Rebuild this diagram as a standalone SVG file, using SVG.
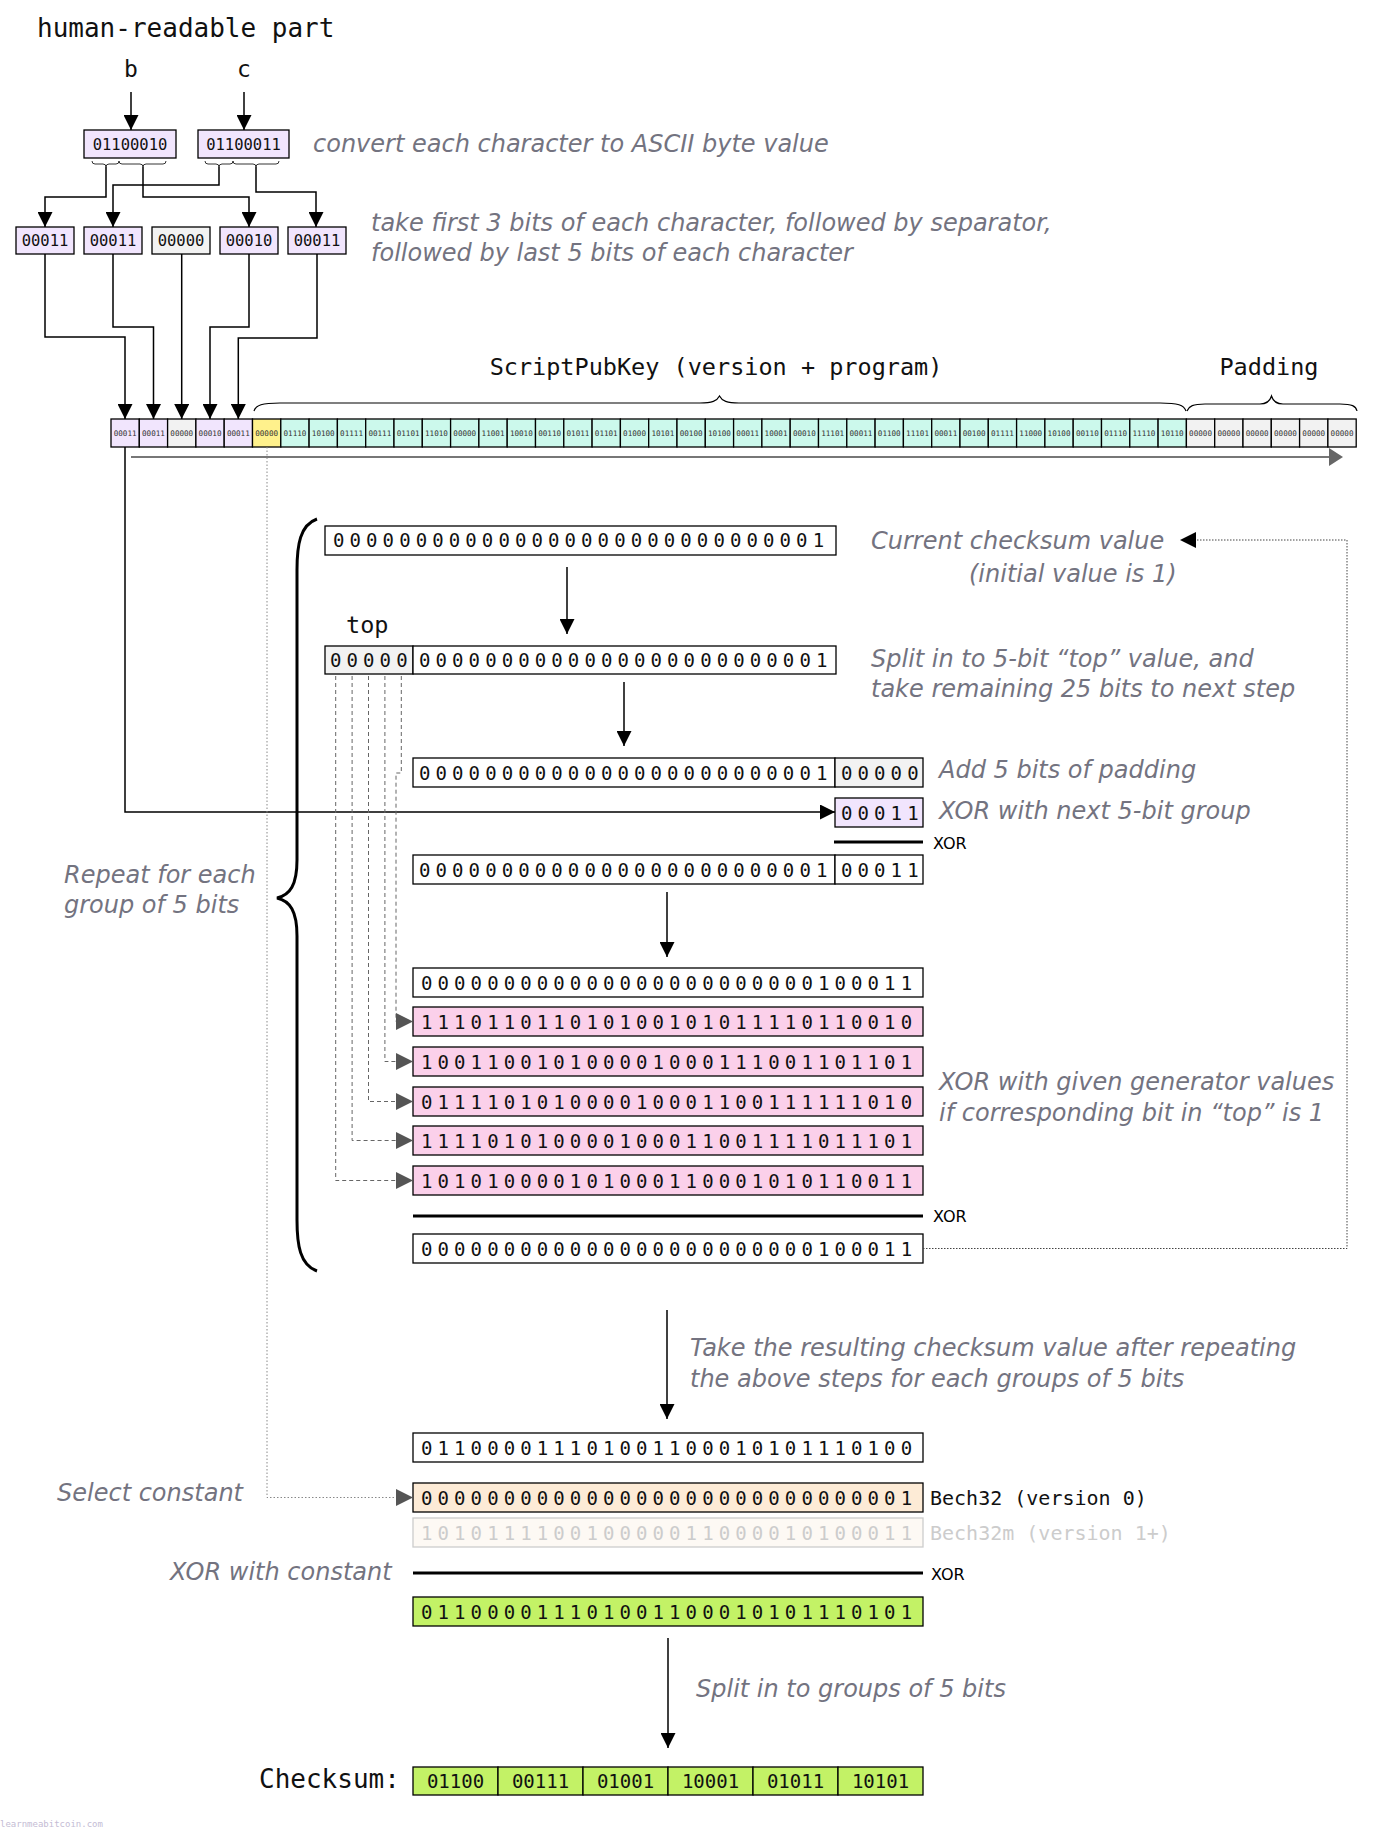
<svg xmlns="http://www.w3.org/2000/svg" width="1383" height="1829" viewBox="0 0 1383 1829">
<style>
.mono{font-family:"DejaVu Sans Mono","Liberation Mono",monospace;fill:#111}
.lbl{font-family:"DejaVu Sans","Liberation Sans",sans-serif;font-style:italic;font-size:24px;fill:#737380}
.xor{font-family:"DejaVu Sans","Liberation Sans",sans-serif;font-size:16px;fill:#000}
.box{stroke:#000;stroke-width:1.3;fill:#fff}
.lav{fill:#f1e5fd}.gry{fill:#f2f2f2}.yel{fill:#fff18c}.mint{fill:#ccf9ec}.pink{fill:#fbd0ea}.peach{fill:#fdebd6}.green{fill:#c3f266}
.bits{font-family:"DejaVu Sans Mono","Liberation Mono",monospace;font-size:19px;letter-spacing:5.1px;fill:#111}
.cell{font-family:"DejaVu Sans Mono","Liberation Mono",monospace;font-size:7.6px;fill:#333;text-anchor:middle}
.ln{stroke:#000;stroke-width:1.5;fill:none}
.dash{stroke:#666;stroke-width:1;stroke-dasharray:4,3;fill:none}
.dot{stroke:#444;stroke-width:1;stroke-dasharray:1.5,1.5;fill:none}
.thick{stroke:#000;stroke-width:3}
</style>
<defs>
<marker id="arr" markerUnits="userSpaceOnUse" markerWidth="15" markerHeight="15" refX="15" refY="7.5" orient="auto"><path d="M0,0L15,7.5L0,15z" fill="#000"/></marker>
</defs>

<g id="title"><text class="mono" x="37" y="37" font-size="26">human-readable part</text></g>
<g id="char-b"><text class="mono" x="131" y="77" font-size="23" text-anchor="middle">b</text></g>
<g id="char-c"><text class="mono" x="244" y="77" font-size="23" text-anchor="middle">c</text></g>

<g id="ascii-b"><rect class="box lav" x="84" y="130" width="92" height="28"/><text class="mono" x="130" y="150" font-size="15.5" text-anchor="middle">01100010</text>
<path d="M92,161q0,3 3,3H103q3,0 3,3q0,-3 3,-3H116q3,0 3,-3M119,161q0,3 3,3H140q3,0 3,3q0,-3 3,-3H163q3,0 3,-3" fill="none" stroke="#000" stroke-width="0.8"/></g>
<g id="ascii-c"><rect class="box lav" x="198" y="130" width="91" height="28"/><text class="mono" x="243.5" y="150" font-size="15.5" text-anchor="middle">01100011</text>
<path d="M205,161q0,3 3,3H216q3,0 3,3q0,-3 3,-3H230q3,0 3,-3M233,161q0,3 3,3H253q3,0 3,3q0,-3 3,-3H276q3,0 3,-3" fill="none" stroke="#000" stroke-width="0.8"/></g>
<text class="lbl" x="313" y="152">convert each character to ASCII byte value</text>

<g id="g5-1"><rect class="box lav" x="16" y="227" width="58" height="27"/><text class="mono" x="45" y="246" font-size="15.5" text-anchor="middle">00011</text></g>
<g id="g5-2"><rect class="box lav" x="84" y="227" width="58" height="27"/><text class="mono" x="113" y="246" font-size="15.5" text-anchor="middle">00011</text></g>
<g id="g5-3"><rect class="box gry" x="152" y="227" width="58" height="27"/><text class="mono" x="181" y="246" font-size="15.5" text-anchor="middle">00000</text></g>
<g id="g5-4"><rect class="box lav" x="220" y="227" width="58" height="27"/><text class="mono" x="249" y="246" font-size="15.5" text-anchor="middle">00010</text></g>
<g id="g5-5"><rect class="box lav" x="288" y="227" width="58" height="27"/><text class="mono" x="317" y="246" font-size="15.5" text-anchor="middle">00011</text></g>
<text class="lbl" x="371" y="231">take first 3 bits of each character, followed by separator,</text>
<text class="lbl" x="371" y="261">followed by last 5 bits of each character</text>

<g id="labels-top">
<text class="mono" x="716" y="375" font-size="23.5" text-anchor="middle">ScriptPubKey (version + program)</text>
<text class="mono" x="1269" y="375" font-size="23.5" text-anchor="middle">Padding</text>
<path d="M254,411C256,405 262,403 280,403H700C712,403 717,401 719.5,396C722,401 727,403 739,403H1160C1178,403 1184,405 1186,411" fill="none" stroke="#000" stroke-width="1.2"/>
<path d="M1187,411C1189,406 1193,404 1205,404H1260C1267,404 1270,401 1271.5,396C1273,401 1276,404 1283,404H1340C1352,404 1356,406 1357,411" fill="none" stroke="#000" stroke-width="1.2"/>
</g>

<g id="data-row">
<rect class="box lav" x="111" y="419" width="28.3" height="28"/><text class="cell" x="125.15" y="436">00011</text>
<rect class="box lav" x="139.3" y="419" width="28.3" height="28"/><text class="cell" x="153.45" y="436">00011</text>
<rect class="box gry" x="167.6" y="419" width="28.3" height="28"/><text class="cell" x="181.75" y="436">00000</text>
<rect class="box lav" x="195.9" y="419" width="28.3" height="28"/><text class="cell" x="210.05" y="436">00010</text>
<rect class="box lav" x="224.2" y="419" width="28.3" height="28"/><text class="cell" x="238.35" y="436">00011</text>
<rect class="box yel" x="252.5" y="419" width="28.3" height="28"/><text class="cell" x="266.65" y="436">00000</text>
<rect class="box mint" x="280.8" y="419" width="28.3" height="28"/><text class="cell" x="294.95" y="436">01110</text>
<rect class="box mint" x="309.1" y="419" width="28.3" height="28"/><text class="cell" x="323.25" y="436">10100</text>
<rect class="box mint" x="337.4" y="419" width="28.3" height="28"/><text class="cell" x="351.55" y="436">01111</text>
<rect class="box mint" x="365.7" y="419" width="28.3" height="28"/><text class="cell" x="379.85" y="436">00111</text>
<rect class="box mint" x="394" y="419" width="28.3" height="28"/><text class="cell" x="408.15" y="436">01101</text>
<rect class="box mint" x="422.3" y="419" width="28.3" height="28"/><text class="cell" x="436.45" y="436">11010</text>
<rect class="box mint" x="450.6" y="419" width="28.3" height="28"/><text class="cell" x="464.75" y="436">00000</text>
<rect class="box mint" x="478.9" y="419" width="28.3" height="28"/><text class="cell" x="493.05" y="436">11001</text>
<rect class="box mint" x="507.2" y="419" width="28.3" height="28"/><text class="cell" x="521.35" y="436">10010</text>
<rect class="box mint" x="535.5" y="419" width="28.3" height="28"/><text class="cell" x="549.65" y="436">00110</text>
<rect class="box mint" x="563.8" y="419" width="28.3" height="28"/><text class="cell" x="577.95" y="436">01011</text>
<rect class="box mint" x="592.1" y="419" width="28.3" height="28"/><text class="cell" x="606.25" y="436">01101</text>
<rect class="box mint" x="620.4" y="419" width="28.3" height="28"/><text class="cell" x="634.55" y="436">01000</text>
<rect class="box mint" x="648.7" y="419" width="28.3" height="28"/><text class="cell" x="662.85" y="436">10101</text>
<rect class="box mint" x="677" y="419" width="28.3" height="28"/><text class="cell" x="691.15" y="436">00100</text>
<rect class="box mint" x="705.3" y="419" width="28.3" height="28"/><text class="cell" x="719.45" y="436">10100</text>
<rect class="box mint" x="733.6" y="419" width="28.3" height="28"/><text class="cell" x="747.75" y="436">00011</text>
<rect class="box mint" x="761.9" y="419" width="28.3" height="28"/><text class="cell" x="776.05" y="436">10001</text>
<rect class="box mint" x="790.2" y="419" width="28.3" height="28"/><text class="cell" x="804.35" y="436">00010</text>
<rect class="box mint" x="818.5" y="419" width="28.3" height="28"/><text class="cell" x="832.65" y="436">11101</text>
<rect class="box mint" x="846.8" y="419" width="28.3" height="28"/><text class="cell" x="860.95" y="436">00011</text>
<rect class="box mint" x="875.1" y="419" width="28.3" height="28"/><text class="cell" x="889.25" y="436">01100</text>
<rect class="box mint" x="903.4" y="419" width="28.3" height="28"/><text class="cell" x="917.55" y="436">11101</text>
<rect class="box mint" x="931.7" y="419" width="28.3" height="28"/><text class="cell" x="945.85" y="436">00011</text>
<rect class="box mint" x="960" y="419" width="28.3" height="28"/><text class="cell" x="974.15" y="436">00100</text>
<rect class="box mint" x="988.3" y="419" width="28.3" height="28"/><text class="cell" x="1002.45" y="436">01111</text>
<rect class="box mint" x="1016.6" y="419" width="28.3" height="28"/><text class="cell" x="1030.75" y="436">11000</text>
<rect class="box mint" x="1044.9" y="419" width="28.3" height="28"/><text class="cell" x="1059.05" y="436">10100</text>
<rect class="box mint" x="1073.2" y="419" width="28.3" height="28"/><text class="cell" x="1087.35" y="436">00110</text>
<rect class="box mint" x="1101.5" y="419" width="28.3" height="28"/><text class="cell" x="1115.65" y="436">01110</text>
<rect class="box mint" x="1129.8" y="419" width="28.3" height="28"/><text class="cell" x="1143.95" y="436">11110</text>
<rect class="box mint" x="1158.1" y="419" width="28.3" height="28"/><text class="cell" x="1172.25" y="436">10110</text>
<rect class="box gry" x="1186.4" y="419" width="28.3" height="28"/><text class="cell" x="1200.55" y="436">00000</text>
<rect class="box gry" x="1214.7" y="419" width="28.3" height="28"/><text class="cell" x="1228.85" y="436">00000</text>
<rect class="box gry" x="1243" y="419" width="28.3" height="28"/><text class="cell" x="1257.15" y="436">00000</text>
<rect class="box gry" x="1271.3" y="419" width="28.3" height="28"/><text class="cell" x="1285.45" y="436">00000</text>
<rect class="box gry" x="1299.6" y="419" width="28.3" height="28"/><text class="cell" x="1313.75" y="436">00000</text>
<rect class="box gry" x="1327.9" y="419" width="28.3" height="28"/><text class="cell" x="1342.05" y="436">00000</text>
</g>

<g id="checksum-current"><rect class="box" x="325" y="526" width="511" height="29"/><text class="bits" x="333" y="547">000000000000000000000000000001</text></g>
<text class="lbl" x="871" y="549">Current checksum value</text>
<text class="lbl" x="969" y="582">(initial value is 1)</text>

<text class="mono" x="346" y="633" font-size="23.5">top</text>
<g id="checksum-split"><rect class="box gry" x="325" y="646" width="88" height="28"/><rect class="box" x="413" y="646" width="423" height="28"/><text class="bits" x="330" y="667">00000</text><text class="bits" x="419" y="667">0000000000000000000000001</text></g>
<text class="lbl" x="871" y="667">Split in to 5-bit “top” value, and</text>
<text class="lbl" x="871" y="697">take remaining 25 bits to next step</text>

<g id="padded"><rect class="box" x="413" y="758" width="422" height="29"/><rect class="box gry" x="835" y="758" width="88" height="29"/><text class="bits" x="419" y="780">0000000000000000000000001</text><text class="bits" x="841" y="780">00000</text></g>
<text class="lbl" x="939" y="778">Add 5 bits of padding</text>
<g id="next-group"><rect class="box lav" x="835" y="798" width="88" height="29"/><text class="bits" x="841" y="820">00011</text></g>
<text class="lbl" x="939" y="819">XOR with next 5-bit group</text>
<g id="xor1"><line class="thick" x1="834" y1="842" x2="923" y2="842"/><text class="xor" x="933" y="849">XOR</text></g>
<g id="after-xor"><rect class="box" x="413" y="855" width="422" height="29"/><rect class="box" x="835" y="855" width="88" height="29"/><text class="bits" x="419" y="877">0000000000000000000000001</text><text class="bits" x="841" y="877">00011</text></g>

<g id="shifted"><rect class="box" x="413" y="968" width="510" height="29"/><text class="bits" x="421" y="990">000000000000000000000000100011</text></g>
<g id="gen1"><rect class="box pink" x="413" y="1007" width="510" height="29"/><text class="bits" x="421" y="1029">111011011010100101011110110010</text></g>
<g id="gen2"><rect class="box pink" x="413" y="1047" width="510" height="29"/><text class="bits" x="421" y="1069">100110010100001000111001101101</text></g>
<g id="gen3"><rect class="box pink" x="413" y="1087" width="510" height="29"/><text class="bits" x="421" y="1109">011110101000010001100111111010</text></g>
<g id="gen4"><rect class="box pink" x="413" y="1126" width="510" height="29"/><text class="bits" x="421" y="1148">111101010000100011001111011101</text></g>
<g id="gen5"><rect class="box pink" x="413" y="1166" width="510" height="29"/><text class="bits" x="421" y="1188">101010000101000110001010110011</text></g>
<text class="lbl" x="939" y="1090">XOR with given generator values</text>
<text class="lbl" x="939" y="1121">if corresponding bit in “top” is 1</text>
<g id="xor2"><line class="thick" x1="413" y1="1216" x2="923" y2="1216"/><text class="xor" x="933" y="1222">XOR</text></g>
<g id="new-checksum"><rect class="box" x="413" y="1234" width="510" height="29"/><text class="bits" x="421" y="1256">000000000000000000000000100011</text></g>

<g id="repeat-brace"><path d="M317,519C300,525 297,545 297,570V860C297,885 290,895 277,898C290,901 297,911 297,936V1220C297,1245 300,1265 317,1271" fill="none" stroke="#000" stroke-width="3"/>
<text class="lbl" x="64" y="883">Repeat for each</text><text class="lbl" x="64" y="913">group of 5 bits</text></g>

<text class="lbl" x="690" y="1356">Take the resulting checksum value after repeating</text>
<text class="lbl" x="690" y="1387">the above steps for each groups of 5 bits</text>
<g id="result"><rect class="box" x="413" y="1433" width="510" height="29"/><text class="bits" x="421" y="1455">011000011101001100010101110100</text></g>
<text class="lbl" x="57" y="1501">Select constant</text>
<g id="bech32"><rect class="box peach" x="413" y="1483" width="510" height="29"/><text class="bits" x="421" y="1505">000000000000000000000000000001</text><text class="mono" x="930" y="1505" font-size="20">Bech32 (version 0)</text></g>
<g id="bech32m"><rect x="413" y="1518" width="510" height="29" fill="#fdf9f4" stroke="#ccc" stroke-width="1.3"/><text class="bits" x="421" y="1540" style="fill:#ccc">101011110010000011000010100011</text><text class="mono" x="930" y="1540" font-size="20" style="fill:#ccc">Bech32m (version 1+)</text></g>
<text class="lbl" x="170" y="1580">XOR with constant</text>
<g id="xor3"><line class="thick" x1="413" y1="1573" x2="923" y2="1573"/><text class="xor" x="931" y="1580">XOR</text></g>
<g id="final"><rect class="box green" x="413" y="1597" width="510" height="29"/><text class="bits" x="421" y="1619">011000011101001100010101110101</text></g>
<text class="lbl" x="696" y="1697">Split in to groups of 5 bits</text>

<g id="checksum-out">
<text class="mono" x="259" y="1788" font-size="26">Checksum:</text>
<rect class="box green" x="413" y="1767" width="85" height="28"/><text class="mono" x="455.5" y="1788" font-size="19" text-anchor="middle">01100</text>
<rect class="box green" x="498" y="1767" width="85" height="28"/><text class="mono" x="540.5" y="1788" font-size="19" text-anchor="middle">00111</text>
<rect class="box green" x="583" y="1767" width="85" height="28"/><text class="mono" x="625.5" y="1788" font-size="19" text-anchor="middle">01001</text>
<rect class="box green" x="668" y="1767" width="85" height="28"/><text class="mono" x="710.5" y="1788" font-size="19" text-anchor="middle">10001</text>
<rect class="box green" x="753" y="1767" width="85" height="28"/><text class="mono" x="795.5" y="1788" font-size="19" text-anchor="middle">01011</text>
<rect class="box green" x="838" y="1767" width="85" height="28"/><text class="mono" x="880.5" y="1788" font-size="19" text-anchor="middle">10101</text>
</g>
<text x="0" y="1827" font-family="DejaVu Sans Mono,monospace" font-size="9" fill="#c4bcd4">learnmeabitcoin.com</text>

<g id="connectors">
<path class="ln" d="M131,92V130" marker-end="url(#arr)"/>
<path class="ln" d="M244,92V130" marker-end="url(#arr)"/>
<path class="ln" d="M106,167V197H45V227" marker-end="url(#arr)"/>
<path class="ln" d="M143,167V197H249V227" marker-end="url(#arr)"/>
<path class="ln" d="M219,167V185H113V227" marker-end="url(#arr)"/>
<path class="ln" d="M256,167V192H316V227" marker-end="url(#arr)"/>
<path class="ln" d="M45,254V337H125V419" marker-end="url(#arr)"/>
<path class="ln" d="M113,254V327H153.5V419" marker-end="url(#arr)"/>
<path class="ln" d="M181.7,254V419" marker-end="url(#arr)"/>
<path class="ln" d="M249,254V327H210V419" marker-end="url(#arr)"/>
<path class="ln" d="M317,254V338H238.3V419" marker-end="url(#arr)"/>
<line x1="131" y1="457" x2="1332" y2="457" stroke="#777" stroke-width="2"/>
<polygon points="1329,448 1343,457 1329,466" fill="#666"/>
<path class="ln" d="M125,447V812H835" marker-end="url(#arr)"/>
<path class="ln" d="M567,567V634" marker-end="url(#arr)"/>
<path class="ln" d="M624,682V746" marker-end="url(#arr)"/>
<path class="ln" d="M667,892V957" marker-end="url(#arr)"/>
<path class="ln" d="M667,1310V1419" marker-end="url(#arr)"/>
<path class="ln" d="M668,1638V1748" marker-end="url(#arr)"/>
<path class="dash" d="M401.3,676V773H396V1021.5"/>
<path class="dash" d="M384.9,676V1061.5H397"/>
<path class="dash" d="M368.5,676V1101.5H397"/>
<path class="dash" d="M352.1,676V1140.5H397"/>
<path class="dash" d="M335.7,676V1180.5H397"/>
<g fill="#555">
<polygon points="396,1013 413,1021.5 396,1030"/>
<polygon points="396,1053 413,1061.5 396,1070"/>
<polygon points="396,1093 413,1101.5 396,1110"/>
<polygon points="396,1132 413,1140.5 396,1149"/>
<polygon points="396,1172 413,1180.5 396,1189"/>
<polygon points="396,1489 413,1497.5 396,1506"/>
</g>
<path class="dot" d="M923,1248.5H1347V540H1196"/>
<polygon points="1196,532 1180,540 1196,548" fill="#000"/>
<path d="M267,447V1497.5H396" fill="none" stroke="#888" stroke-width="1" stroke-dasharray="1.5,2"/>
</g>
</svg>
